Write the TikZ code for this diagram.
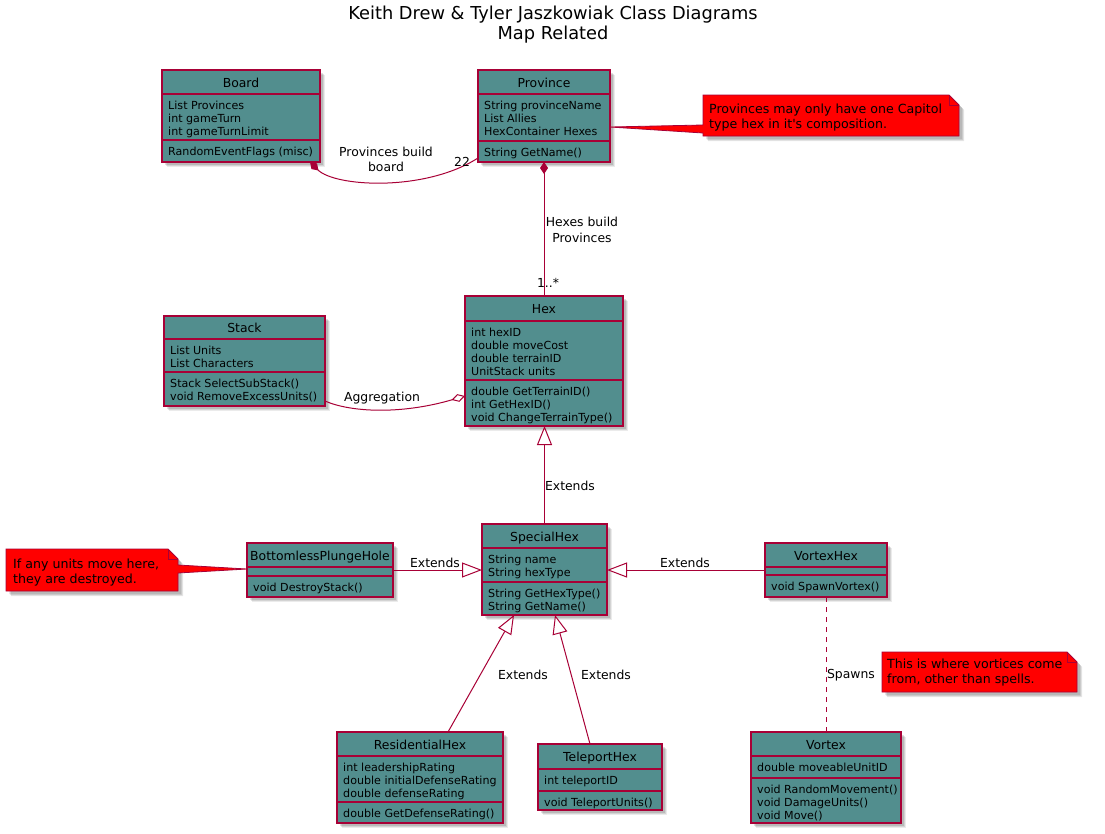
\documentclass[tikz,border=0pt]{standalone}
\usepackage{fontspec}
\setmainfont{DejaVu Sans}
\usetikzlibrary{arrows.meta,shadows}
\definecolor{umlfill}{RGB}{82,142,142}
\definecolor{umlborder}{RGB}{168,0,54}
\definecolor{notefill}{RGB}{255,0,0}
% class box: name, x1, y1, x2, y2, sep1, sep2, title
\newcommand{\umlcls}[8]{%
  \node[cls, minimum width={(#4-#2)*1pt}, minimum height={(#5-#3)*1pt}] (#1) at ({(#2+#4)/2},{(#3+#5)/2}) {};
  \draw[sepline] (#2,#6) -- (#4,#6) (#2,#7) -- (#4,#7);
  \node[clsname] (#1-t) at ({(#2+#4)/2},{(#3+#6)/2+5}) {#8};
}
\newcommand{\umltxt}[4]{%
  \node[clstxt] (#1) at (#2,#3) {\rule{0pt}{10pt}#4};
}
\begin{document}
\begin{tikzpicture}[x=1pt,y=-1pt,
  cls/.style={draw=umlborder, fill=umlfill, line width=1.2pt, inner sep=0pt, outer sep=0pt,
    drop shadow={shadow xshift=5pt, shadow yshift=-5pt, fill=black, opacity=0.08},
    drop shadow={shadow xshift=4pt, shadow yshift=-4pt, fill=black, opacity=0.1},
    drop shadow={shadow xshift=3pt, shadow yshift=-3pt, fill=black, opacity=0.12}},
  sepline/.style={draw=umlborder, line width=1.2pt},
  clsname/.style={font=\fontsize{12.4}{14}\selectfont, anchor=base, inner sep=0pt},
  clstxt/.style={font=\fontsize{11.1}{13}\selectfont, anchor=north west, inner sep=0pt, align=left},
  lbl/.style={font=\fontsize{12.4}{15}\selectfont, anchor=base, inner sep=0pt},
  ttl/.style={font=\fontsize{17.8}{20}\selectfont, anchor=base, inner sep=0pt},
  notetxt/.style={font=\fontsize{12.6}{15}\selectfont, anchor=north west, inner sep=0pt, align=left},
  notebody/.style={fill=notefill, draw=umlborder, line width=0.8pt, line join=miter},
  noteshadow/.style={fill=black, opacity=0.1},
  conn/.style={draw=umlborder, line width=1pt},
]
\useasboundingbox (0,0) rectangle (1105,833);
\fill[white] (0,0) rectangle (1105,833);

% title
\node[ttl] (title1) at (553,19.5) {Keith Drew \& Tyler Jaszkowiak Class Diagrams};
\node[ttl] (title2) at (553,39) {Map Related};

% classes
\umlcls{board}{162}{70}{320}{162}{94}{140}{Board}
\umltxt{boardA}{168}{99}{List Provinces\\int gameTurn\\int gameTurnLimit}
\umltxt{boardM}{168}{145}{RandomEventFlags (misc)}

\umlcls{province}{478}{70}{610}{162}{94}{141}{Province}
\umltxt{provA}{484}{99}{String provinceName\\List Allies\\HexContainer Hexes}
\umltxt{provM}{484}{146}{String GetName()}

\umlcls{hex}{465}{296}{623}{426}{321}{380}{Hex}
\umltxt{hexA}{471}{326}{int hexID\\double moveCost\\double terrainID\\UnitStack units}
\umltxt{hexM}{471}{385}{double GetTerrainID()\\int GetHexID()\\void ChangeTerrainType()}

\umlcls{stack}{164}{316}{325}{406}{339}{372}{Stack}
\umltxt{stackA}{170}{344}{List Units\\List Characters}
\umltxt{stackM}{170}{377}{Stack SelectSubStack()\\void RemoveExcessUnits()}

\umlcls{special}{482}{524}{607}{615}{548}{582}{SpecialHex}
\umltxt{specialA}{488}{553}{String name\\String hexType}
\umltxt{specialM}{488}{587}{String GetHexType()\\String GetName()}

\umlcls{bph}{247}{543}{393}{597}{567}{576}{BottomlessPlungeHole}
\umltxt{bphM}{253}{581}{void DestroyStack()}

\umlcls{vhex}{765}{543}{887}{597}{567}{575}{VortexHex}
\umltxt{vhexM}{771}{580}{void SpawnVortex()}

\umlcls{res}{337}{732}{503}{823}{756}{802}{ResidentialHex}
\umltxt{resA}{343}{761}{int leadershipRating\\double initialDefenseRating\\double defenseRating}
\umltxt{resM}{343}{807}{double GetDefenseRating()}

\umlcls{tele}{538}{744}{662}{810}{769}{791}{TeleportHex}
\umltxt{teleA}{544}{774}{int teleportID}
\umltxt{teleM}{544}{796}{void TeleportUnits()}

\umlcls{vortex}{751}{732}{901}{823}{756}{778}{Vortex}
\umltxt{vortexA}{757}{761}{double moveableUnitID}
\umltxt{vortexM}{757}{783}{void RandomMovement()\\void DamageUnits()\\void Move()}

% connectors
\draw[conn, {Diamond[length=12pt,width=8pt]}-]
  ([xshift=69pt]board.south) .. controls (335,187) and (425,192) .. ([yshift=4pt]province.south west);
\node[lbl] (lblPB1) at (386,156) {Provinces build};
\node[lbl] (lblPB2) at (386,171) {board};
\node[lbl] (lbl22) at (462,166.5) {22};

\draw[conn, {Diamond[length=12pt,width=8pt]}-] (province.south) -- (hex.north);
\node[lbl] (lblHB1) at (582,226) {Hexes build};
\node[lbl] (lblHB2) at (582,242) {Provinces};
\node[lbl] (lblMult) at (548,287) {1..*};

\draw[conn, -{Diamond[open,length=14pt,width=8pt,fill=white]}]
  ([yshift=-40pt]stack.east) .. controls (350,412) and (400,415) .. ([yshift=-35pt]hex.west);
\node[lbl] (lblAgg) at (382,401.5) {Aggregation};

\draw[conn, -{Triangle[open,length=19pt,width=15pt,fill=white]}] (special.north) -- (special.north |- hex.south);
\node[lbl] (lblE1) at (570,490) {Extends};

\draw[conn, -{Triangle[open,length=20pt,width=15pt,fill=white]}] (bph.east) -- (bph.east -| special.west);
\node[lbl] (lblE2) at (435,567) {Extends};

\draw[conn, -{Triangle[open,length=20pt,width=15pt,fill=white]}] (vhex.west) -- (vhex.west -| special.east);
\node[lbl] (lblE3) at (685,567) {Extends};

\draw[conn, -{Triangle[open,length=19pt,width=15pt,fill=white]}] ([xshift=28pt]res.north) -- ([xshift=-30.5pt]special.south);
\node[lbl] (lblE4) at (523,679) {Extends};

\draw[conn, -{Triangle[open,length=19pt,width=15pt,fill=white]}] ([xshift=-10pt]tele.north) -- ([xshift=10.5pt]special.south);
\node[lbl] (lblE5) at (606,679) {Extends};

\draw[conn, dash pattern=on 5pt off 5pt] (vhex.south) -- (vortex.north);
\node[lbl] (lblSp) at (851,678) {Spawns};

% notes
\foreach \s in {3,4,5}{
  \fill[noteshadow, shift={(\s,\s)}] (703,95) -- (949,95) -- (959,105) -- (959,136) -- (703,136) -- cycle;
  \fill[noteshadow, shift={(\s,\s)}] (6,549) -- (168,549) -- (178,559) -- (178,591) -- (6,591) -- cycle;
  \fill[noteshadow, shift={(\s,\s)}] (882,652) -- (1067,652) -- (1077,662) -- (1077,692) -- (882,692) -- cycle;
}
\path[notebody] (703,95) -- (949,95) -- (959,105) -- (959,136) -- (703,136) -- (703,133) -- ([yshift=-11pt]province.east) -- (703,125) -- cycle;
\draw[umlborder, line width=0.8pt] (949,95) -- (949,105) -- (959,105);
\node[notetxt] (note1) at (709,103) {\rule{0pt}{10pt}Provinces may only have one Capitol\\type hex in it\textquotesingle s composition.};

\path[notebody] (6,549) -- (168,549) -- (178,559) -- (178,565) -- ([yshift=1pt]bph.west) -- (178,573) -- (178,591) -- (6,591) -- cycle;
\draw[umlborder, line width=0.8pt] (168,549) -- (168,559) -- (178,559);
\node[notetxt] (note2) at (13,558) {\rule{0pt}{10pt}If any units move here,\\they are destroyed.};

\path[notebody] (882,652) -- (1067,652) -- (1077,662) -- (1077,692) -- (882,692) -- cycle;
\draw[umlborder, line width=0.8pt] (1067,652) -- (1067,662) -- (1077,662);
\node[notetxt] (note3) at (887,658) {\rule{0pt}{10pt}This is where vortices come\\from, other than spells.};
\end{tikzpicture}
\end{document}
